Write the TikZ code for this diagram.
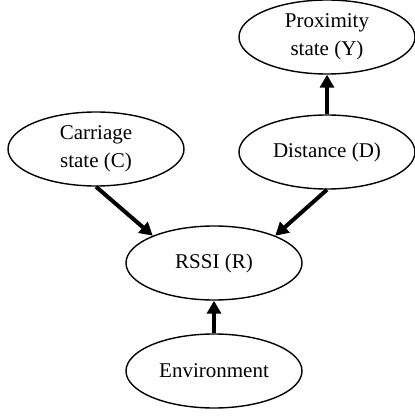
\documentclass[tikz,border=0pt]{standalone}
\usepackage{fontspec}
\setmainfont{Liberation Serif}
\usetikzlibrary{arrows.meta,shapes.geometric}
\tikzset{
  var/.style={draw,ellipse,line width=0.7pt,minimum width=88pt,minimum height=37pt,inner sep=0pt,align=center,font=\fontsize{10.5}{14}\selectfont},
  dep/.style={-{Triangle[length=6.5pt,width=7pt]},line width=2pt}
}
\begin{document}
\begin{tikzpicture}[x=1pt,y=1pt]
      \useasboundingbox (0,0) rectangle (207,209);
      \node[var] (Y) at (163.5,190.5) {Proximity\\state (Y)};
      \node[var] (D) at (163.5,133) {Distance (D)};
      \node[var] (C) at (48,134.5) {Carriage\\state (C)};
      \node[var] (R) at (107,77.5) {RSSI (R)};
      \node[var] (E) at (107,23.5) {Environment};
      \draw[dep] (D) -- (Y);
      \draw[dep] (C.south) -- (R.156);
      \draw[dep] (D.south) -- (R.24);
      \draw[dep] (E) -- (R);
    \end{tikzpicture}
\end{document}
